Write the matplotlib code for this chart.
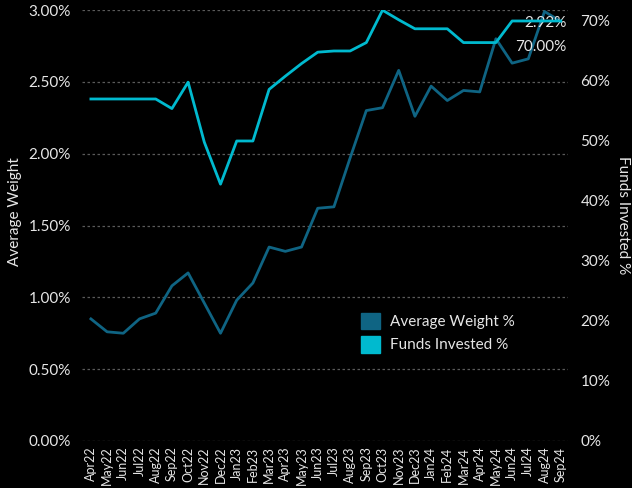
import numpy as np
import matplotlib
matplotlib.use('Agg')
import matplotlib.pyplot as plt
from matplotlib.patches import Patch
from matplotlib.ticker import FuncFormatter

# months on the x axis
months = ['Apr22', 'May22', 'Jun22', 'Jul22', 'Aug22', 'Sep22', 'Oct22', 'Nov22', 'Dec22',
          'Jan23', 'Feb23', 'Mar23', 'Apr23', 'May23', 'Jun23', 'Jul23', 'Aug23', 'Sep23',
          'Oct23', 'Nov23', 'Dec23', 'Jan24', 'Feb24', 'Mar24', 'Apr24', 'May24', 'Jun24',
          'Jul24', 'Aug24', 'Sep24']

# average weight, % (left axis)
avg_weight = [0.85, 0.76, 0.75, 0.85, 0.89, 1.08, 1.17, 0.96, 0.75,
              0.98, 1.10, 1.35, 1.32, 1.35, 1.62, 1.63, 1.97, 2.30,
              2.32, 2.58, 2.26, 2.47, 2.37, 2.44, 2.43, 2.80, 2.63,
              2.66, 2.99, 2.92]

# funds invested, % (right axis)
funds_invested = [57.0, 57.0, 57.0, 57.0, 57.0, 55.4, 59.8, 49.8, 42.8,
                  50.0, 50.0, 58.6, 60.8, 62.9, 64.8, 65.0, 65.0, 66.4,
                  71.8, 70.2, 68.7, 68.7, 68.7, 66.4, 66.4, 66.4, 70.0,
                  70.0, 70.0, 70.0]

dark = '#0f6483'
light = '#00bacf'
txt = '#e6e6e6'
bg = '#000000'

plt.rcParams['font.family'] = ['Lato', 'DejaVu Sans']

fig = plt.figure(figsize=(6.32, 4.88), dpi=100, facecolor=bg)
ax = fig.add_axes([82 / 632, 47 / 488, 486 / 632, 431 / 488])
ax.set_facecolor(bg)
ax2 = ax.twinx()

x = np.arange(len(months))
ax.plot(x, avg_weight, color=dark, lw=2, zorder=3)
ax2.plot(x, funds_invested, color=light, lw=2, zorder=3)

ax.set_xlim(-0.55, 29.45)
ax.set_ylim(0, 3.0)
ax2.set_ylim(0, 71.83)

ax.set_yticks(np.arange(0, 3.01, 0.5))
ax.yaxis.set_major_formatter(FuncFormatter(lambda v, p: f'{v:.2f}%'))
ax2.set_yticks(np.arange(0, 71, 10))
ax2.yaxis.set_major_formatter(FuncFormatter(lambda v, p: f'{v:.0f}%'))

ax.set_xticks(x)
ax.set_xticklabels(months, rotation=90, fontsize=9, color=txt)
ax.tick_params(axis='y', labelsize=11, colors=txt, length=0, pad=8)
ax.tick_params(axis='x', length=0, pad=4)
ax2.tick_params(axis='y', labelsize=11, colors=txt, length=0, pad=9)

ax.grid(axis='y', color='#5a5a5a', ls=(0, (2, 2)), lw=0.9)
for a in (ax, ax2):
    for s in a.spines.values():
        s.set_visible(False)

fig.text(15 / 632, 1 - 212 / 488, 'Average Weight', rotation=90, color=txt,
         fontsize=11, ha='center', va='center')
fig.text(623 / 632, 1 - 215 / 488, 'Funds Invested %', rotation=270, color=txt,
         fontsize=11, ha='center', va='center')

# end labels
ax.annotate(f'{avg_weight[-1]:.2f}%', xy=(x[-1], avg_weight[-1]), xytext=(4, -1),
            textcoords='offset points', ha='right', va='center', color=txt,
            fontsize=11, zorder=5)
ax2.annotate(f'{funds_invested[-1]:.2f}%', xy=(x[-1], funds_invested[-1]), xytext=(4, -19),
             textcoords='offset points', ha='right', va='center', color=txt,
             fontsize=11, zorder=5)

handles = [Patch(color=dark, label='Average Weight %'),
           Patch(color=light, label='Funds Invested %')]
leg = ax2.legend(handles=handles, loc='upper left', bbox_to_anchor=(0.545, 0.33),
                 frameon=False, fontsize=11, labelcolor=txt, handlelength=1.3,
                 handleheight=1.3, handletextpad=0.6, labelspacing=0.45)

fig.savefig('out.png', dpi=100, facecolor=bg)
